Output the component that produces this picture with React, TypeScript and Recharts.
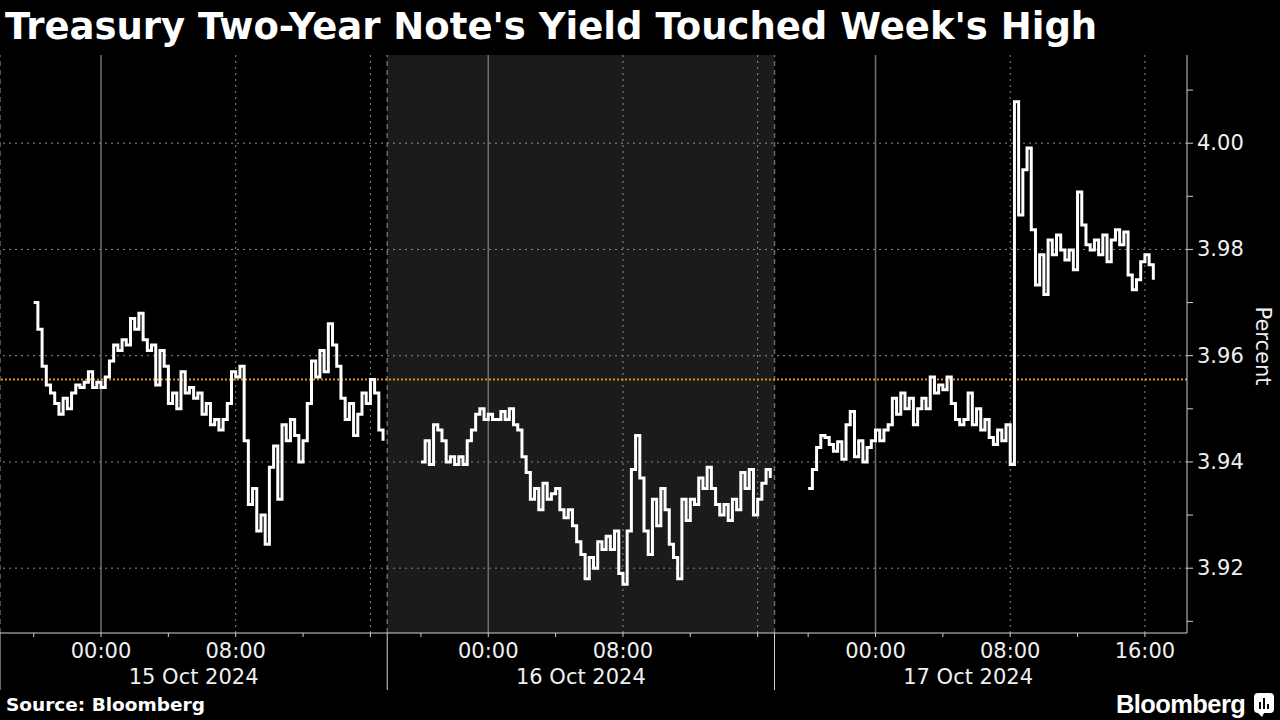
import { Line, LineChart, ReferenceArea, ReferenceLine, XAxis, YAxis } from "recharts";

// hours on a 23h-per-day trading clock (17:00-18:00 NY break removed), 0 = 15 Oct 00:00
const STEP_HOURS = 0.25;
const sessionStarts = [-4, 19, 42];

const oct15 = [
  3.970, 3.965, 3.958, 3.9545, 3.953, 3.951, 3.949, 3.952, 3.950, 3.953,
  3.9545, 3.954, 3.955, 3.957, 3.954, 3.955, 3.954, 3.956, 3.959, 3.962,
  3.961, 3.963, 3.962, 3.967, 3.965, 3.968, 3.963, 3.961, 3.962, 3.9545,
  3.961, 3.958, 3.951, 3.953, 3.950, 3.957, 3.953, 3.954, 3.952, 3.953,
  3.949, 3.951, 3.947, 3.948, 3.946, 3.948, 3.951, 3.957, 3.956, 3.958,
  3.944, 3.932, 3.935, 3.927, 3.930, 3.9245, 3.939, 3.943, 3.933, 3.947,
  3.944, 3.948, 3.945, 3.940, 3.944, 3.951, 3.959, 3.956, 3.961, 3.957,
  3.966, 3.962, 3.958, 3.952, 3.948, 3.951, 3.945, 3.949, 3.953, 3.951,
  3.9555, 3.953, 3.946, 3.944,
];

const oct16 = [
  3.940, 3.944, 3.9395, 3.947, 3.946, 3.944, 3.940, 3.941, 3.9395, 3.941,
  3.9395, 3.944, 3.946, 3.949, 3.950, 3.948, 3.949, 3.948, 3.948, 3.9495,
  3.948, 3.950, 3.947, 3.946, 3.941, 3.938, 3.933, 3.935, 3.931, 3.936,
  3.933, 3.934, 3.935, 3.931, 3.9295, 3.931, 3.928, 3.925, 3.9226, 3.918,
  3.922, 3.920, 3.925, 3.9235, 3.926, 3.9235, 3.927, 3.919, 3.917, 3.927,
  3.9386, 3.945, 3.937, 3.927, 3.9226, 3.933, 3.928, 3.935, 3.931, 3.9245,
  3.922, 3.918, 3.933, 3.929, 3.933, 3.932, 3.937, 3.935, 3.939, 3.935,
  3.932, 3.930, 3.932, 3.929, 3.933, 3.931, 3.938, 3.935, 3.9386, 3.930,
  3.933, 3.936, 3.9386, 3.937,
];

const oct17 = [
  3.935, 3.9386, 3.9427, 3.945, 3.9446, 3.9433, 3.942, 3.9438, 3.9405, 3.947,
  3.9495, 3.941, 3.944, 3.940, 3.9427, 3.944, 3.946, 3.944, 3.946, 3.947,
  3.952, 3.949, 3.953, 3.950, 3.952, 3.947, 3.950, 3.952, 3.950, 3.956,
  3.953, 3.9545, 3.9536, 3.956, 3.951, 3.948, 3.947, 3.948, 3.953, 3.947,
  3.950, 3.946, 3.948, 3.9446, 3.9433, 3.946, 3.944, 3.947, 3.9395, 4.0078,
  3.9865, 3.995, 3.9991, 3.9837, 3.9733, 3.979, 3.9715, 3.9818, 3.979, 3.9827,
  3.9799, 3.978, 3.9799, 3.9762, 3.9908, 3.9846, 3.9809, 3.9799, 3.9818, 3.979,
  3.9827, 3.9777, 3.9818, 3.9837, 3.9809, 3.9833, 3.9752, 3.9724, 3.9743, 3.9777,
  3.979, 3.9771, 3.9743,
];

const dayLabels = ["15 Oct 2024", "16 Oct 2024", "17 Oct 2024"];
const hourLabels: Record<number, string> = { 0: "00:00", 8: "08:00", 16: "16:00" };
const labeledTicks = [0, 8, 23, 31, 46, 54, 62];
const minorHourTicks = [-4, 0, 4, 8, 12, 16];
const midnights = [0, 23, 46];
const dottedHours = [8, 16, 31, 39, 54, 62];
const sessionBreaks = [-6, 17, 40];
const shadedDay = [17, 40];

const yMajorTicks = [3.92, 3.94, 3.96, 3.98, 4.0];
const yMinorTicks = [3.91, 3.93, 3.95, 3.97, 3.99, 4.01];
const referenceYield = 3.9555;

const DAY_HOURS = 23;
const dayCenters = dayLabels.map((_, i) => i * DAY_HOURS + 5.5);
const allMinor = dayLabels.flatMap((_, i) => minorHourTicks.map((h) => i * DAY_HOURS + h));
const xTicks = Array.from(new Set([...allMinor, ...sessionBreaks, ...dayCenters])).sort((a, b) => a - b);

const sessions = [oct15, oct16, oct17].map((vals, i) =>
  vals.map((y, j) => ({ t: sessionStarts[i] + j * STEP_HOURS, y }))
);

const FONT = "'DejaVu Sans', Verdana, sans-serif";

function XTick(props: any) {
  const { x, y, payload } = props;
  const v = payload.value;
  const els: any[] = [];
  if (sessionBreaks.includes(v)) {
    els.push(<line key="b" x1={x} x2={x} y1={y} y2={y + 57} stroke="#d0d0d0" strokeWidth={1} />);
  }
  if (allMinor.includes(v)) {
    els.push(<line key="t" x1={x} x2={x} y1={y} y2={y + 4} stroke="#d0d0d0" strokeWidth={1} />);
  }
  if (labeledTicks.includes(v)) {
    const h = ((v % DAY_HOURS) + DAY_HOURS) % DAY_HOURS;
    els.push(
      <text key="h" x={x} y={y + 18} textAnchor="middle" dominantBaseline="central" fill="#f0f0f0" fontSize={21} fontFamily={FONT}>
        {hourLabels[h]}
      </text>
    );
  }
  const d = dayCenters.indexOf(v);
  if (d >= 0) {
    els.push(
      <text key="d" x={x} y={y + 44} textAnchor="middle" dominantBaseline="central" fill="#f0f0f0" fontSize={21} fontFamily={FONT}>
        {dayLabels[d]}
      </text>
    );
  }
  return <g>{els}</g>;
}

function YTick(props: any) {
  const { x, y, payload } = props;
  const major = yMajorTicks.some((m) => Math.abs(m - payload.value) < 1e-6);
  return (
    <g>
      <line x1={x} x2={x + 6} y1={y} y2={y} stroke="#d0d0d0" strokeWidth={1} />
      {major && (
        <text x={x + 10} y={y} dominantBaseline="central" fill="#f0f0f0" fontSize={21} fontFamily={FONT}>
          {payload.value.toFixed(2)}
        </text>
      )}
    </g>
  );
}

export default function App() {
  return (
    <div style={{ position: "absolute", left: 0, top: 0, width: 1280, height: 720, background: "#000", overflow: "hidden", fontFamily: FONT }}>
      <div style={{ position: "absolute", left: 5, top: 4, color: "#fff", fontSize: 37, fontWeight: 700, whiteSpace: "nowrap", lineHeight: "46px" }}>
        Treasury Two-Year Note's Yield Touched Week's High
      </div>
      <LineChart width={1280} height={720} margin={{ top: 55, right: 33, left: 0, bottom: 27 }}>
        <ReferenceArea x1={shadedDay[0]} x2={shadedDay[1]} fill="#1b1b1b" fillOpacity={1} stroke="none" />
        {yMajorTicks.map((v) => (
          <ReferenceLine key={"gy" + v} y={v} stroke="#8a8a8a" strokeDasharray="2 4" />
        ))}
        {midnights.map((v) => (
          <ReferenceLine key={"m" + v} x={v} stroke="#6f6f6f" strokeWidth={1.5} />
        ))}
        {dottedHours.map((v) => (
          <ReferenceLine key={"d" + v} x={v} stroke="#8a8a8a" strokeDasharray="2 4" />
        ))}
        {sessionBreaks.map((v) => (
          <ReferenceLine key={"s" + v} x={v} stroke="#6a6a6a" strokeDasharray="5 4" strokeWidth={1.5} />
        ))}
        <ReferenceLine y={referenceYield} stroke="#e08b25" strokeDasharray="2 2" strokeWidth={2} />
        <XAxis
          dataKey="t"
          type="number"
          domain={[-6, 64.5]}
          ticks={xTicks}
          interval={0}
          allowDataOverflow
          tickSize={0}
          tickMargin={0}
          tickLine={false}
          height={60}
          axisLine={{ stroke: "#d0d0d0" }}
          tick={<XTick />}
        />
        <YAxis
          orientation="right"
          type="number"
          domain={[3.9078, 4.0166]}
          ticks={[...yMinorTicks, ...yMajorTicks].sort((a, b) => a - b)}
          interval={0}
          allowDataOverflow
          tickSize={0}
          tickMargin={0}
          tickLine={false}
          width={60}
          axisLine={{ stroke: "#d0d0d0" }}
          tick={<YTick />}
        />
        {sessions.map((s, i) => (
          <Line
            key={i}
            data={s}
            dataKey="y"
            type="stepAfter"
            stroke="#ffffff"
            strokeWidth={3}
            dot={false}
            activeDot={false}
            isAnimationActive={false}
          />
        ))}
      </LineChart>
      <div style={{ position: "absolute", left: 1263, top: 346, transform: "translate(-50%, -50%) rotate(90deg)", color: "#f0f0f0", fontSize: 21, whiteSpace: "nowrap" }}>
        Percent
      </div>
      <div style={{ position: "absolute", left: 6, top: 694, color: "#fff", fontSize: 18.5, fontWeight: 700, lineHeight: "22px" }}>
        Source: Bloomberg
      </div>
      <div style={{ position: "absolute", left: 1116, top: 689, color: "#fff", fontSize: 25.5, fontWeight: 700, lineHeight: "30px", fontFamily: "'Liberation Sans', Arial, sans-serif", letterSpacing: -0.6 }}>
        Bloomberg
      </div>
      <svg style={{ position: "absolute", left: 1254, top: 693 }} width={20} height={24}>
        <rect x={0} y={0} width={20} height={20} rx={4} fill="#fff" />
        <path d="M4 20 L8 24 L10 20 Z" fill="#fff" />
        <rect x={5} y={9} width={2} height={7} fill="#000" />
        <rect x={9} y={5} width={2} height={11} fill="#000" />
        <rect x={13} y={11} width={2} height={5} fill="#000" />
      </svg>
    </div>
  );
}
